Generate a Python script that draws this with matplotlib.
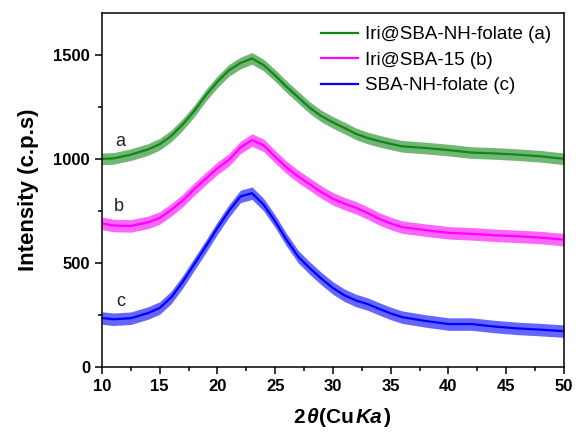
import numpy as np
import matplotlib
matplotlib.use('Agg')
import matplotlib.pyplot as plt
from matplotlib.ticker import MultipleLocator
from matplotlib.offsetbox import TextArea, HPacker, AnchoredOffsetbox

plt.rcParams['font.family'] = ['Liberation Sans', 'DejaVu Sans']

# 2theta positions (deg)
two_theta = [10, 11, 12.5, 14, 15, 16, 17, 18, 19, 20, 21, 22, 23, 24, 25, 26, 27,
             28, 29, 30, 31, 32, 33, 34, 35, 36, 38, 40, 42, 44, 46, 48, 50]

# intensity (c.p.s), centre of the noisy trace
int_a = [1000, 1002, 1020, 1045, 1070, 1110, 1165, 1230, 1305, 1370, 1425, 1460, 1482,
         1450, 1400, 1345, 1295, 1245, 1205, 1175, 1148, 1120, 1100, 1085, 1072, 1060,
         1052, 1042, 1030, 1026, 1020, 1012, 1000]
int_b = [690, 680, 678, 695, 716, 755, 800, 855, 905, 955, 995, 1055, 1090,
         1065, 1010, 958, 915, 878, 840, 808, 785, 765, 740, 712, 690, 672,
         658, 645, 640, 633, 628, 622, 612]
int_c = [236, 230, 235, 260, 284, 335, 410, 495, 580, 668, 750, 820, 835,
         780, 700, 610, 530, 475, 425, 380, 345, 320, 303, 280, 258, 240,
         222, 207, 207, 195, 186, 180, 173]

# approx. half width of the noise band for each trace
noise_a = 28
noise_b = 30
noise_c = 30

labels = ['Iri@SBA-NH-folate (a)', 'Iri@SBA-15 (b)', 'SBA-NH-folate (c)']
colors = ['#12861a', '#ff00ff', '#0000ff']
letters = ['a', 'b', 'c']
letter_pos = [(11.6, 1085), (11.5, 769), (11.6, 317)]

fig = plt.figure(figsize=(5.79, 4.33), dpi=100)
ax = fig.add_axes([0.176, 0.152, 0.798, 0.818])

x = np.array(two_theta)
for y, hw, col, lab in zip([int_a, int_b, int_c], [noise_a, noise_b, noise_c], colors, labels):
    y = np.array(y)
    ax.fill_between(x, y - hw, y + hw, color=col, alpha=0.6, lw=0)
    ax.plot(x, y, color=col, lw=1.6, label=lab)

for (lx, ly), t in zip(letter_pos, letters):
    ax.text(lx, ly, t, fontsize=13, ha='center', va='center', color='#222222')

ax.set_xlim(10, 50)
ax.set_ylim(0, 1700)
ax.xaxis.set_major_locator(MultipleLocator(5))
ax.xaxis.set_minor_locator(MultipleLocator(2.5))
ax.yaxis.set_major_locator(MultipleLocator(500))
ax.yaxis.set_minor_locator(MultipleLocator(250))
ax.tick_params(which='both', direction='out', top=False, right=False, width=1.1)
ax.tick_params(which='major', length=5, labelsize=12)
ax.tick_params(which='minor', length=3)
for lbl in ax.get_xticklabels() + ax.get_yticklabels():
    lbl.set_fontweight('bold')
for sp in ax.spines.values():
    sp.set_linewidth(1.1)

ax.set_ylabel('Intensity (c.p.s)', fontsize=16, fontweight='bold', labelpad=10)

# x label: 2θ(CuKa) with θ and Ka in italic
parts = [('2', 'normal'), ('θ', 'italic'), ('(Cu', 'normal'), ('Ka', 'italic'), (')', 'normal')]
boxes = [TextArea(s, textprops=dict(fontsize=15, fontweight='bold', fontstyle=st)) for s, st in parts]
xl = HPacker(children=boxes, align='baseline', pad=0, sep=1)
anch = AnchoredOffsetbox(loc='upper center', child=xl, frameon=False, pad=0,
                         bbox_to_anchor=(0.52, -0.115), bbox_transform=ax.transAxes,
                         borderpad=0)
ax.add_artist(anch)

ax.legend(loc='upper right', frameon=False, fontsize=13.5, handlelength=2.0,
          handletextpad=0.35, labelspacing=0.45, borderaxespad=0.3,
          bbox_to_anchor=(1.0, 1.0))

fig.savefig('out.png', dpi=100)
